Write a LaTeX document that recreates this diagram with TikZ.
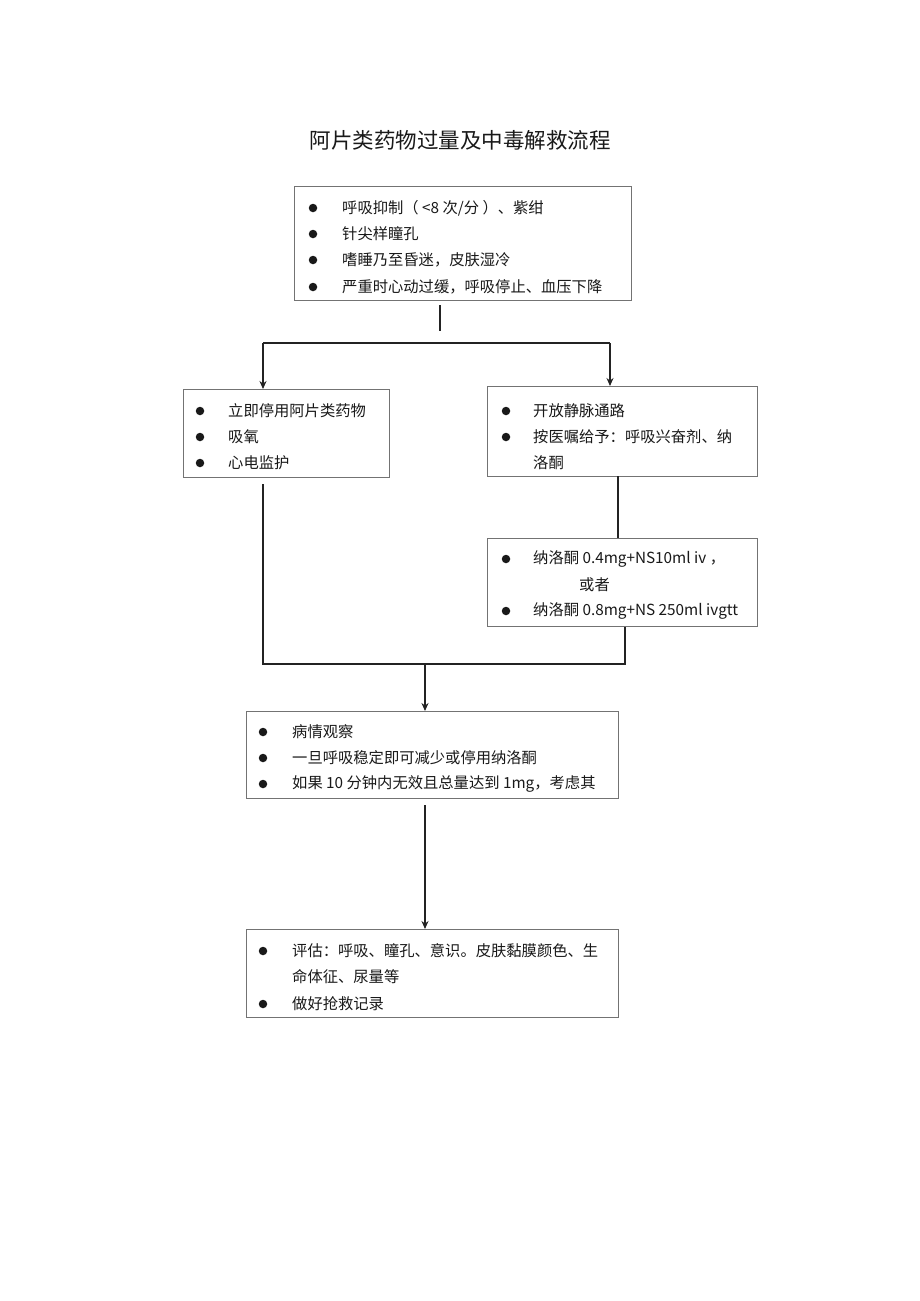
\documentclass[tikz,border=0pt]{standalone}
\usepackage{fontspec}
\setmainfont{Noto Sans CJK SC}
\usetikzlibrary{arrows.meta}
\definecolor{boxgray}{RGB}{115,115,115}
\definecolor{linedark}{RGB}{35,35,35}
\definecolor{txt}{RGB}{25,25,25}
\newcommand{\lat}[1]{{\fontsize{15.3}{18}\selectfont #1}}
\begin{document}
\begin{tikzpicture}[x=1pt,y=-1pt,
  flowbox/.style={draw=boxgray,line width=1pt,inner sep=0pt,anchor=north west},
  itemtext/.style={anchor=west,inner sep=0pt,text=txt,font=\fontsize{15.3}{18}\selectfont},
  dot/.style={circle,fill=txt,inner sep=0pt,minimum size=8.5pt},
  conn/.style={draw=linedark,line width=1.1pt},
  arr/.style={conn,-{Stealth[length=8pt,width=7pt]}}]
\useasboundingbox (0,0) rectangle (920,1301);
\fill[white] (0,0) rectangle (920,1301);

% title
\node[text=txt,font=\fontsize{21.5}{24}\selectfont,inner sep=0pt] (title) at (460,140) {阿片类药物过量及中毒解救流程};

% boxes
\node[flowbox,minimum width=337pt,minimum height=114pt] (b1) at (294,186) {};
\node[flowbox,minimum width=206pt,minimum height=88pt] (b2) at (183,389) {};
\node[flowbox,minimum width=270pt,minimum height=90pt] (b3) at (487,386) {};
\node[flowbox,minimum width=270pt,minimum height=88pt] (b4) at (487,538) {};
\node[flowbox,minimum width=372pt,minimum height=87pt] (b5) at (246,711) {};
\node[flowbox,minimum width=372pt,minimum height=88pt] (b6) at (246,929) {};

% box 1 text
\node[dot] (d11) at (313,208) {};
\node[itemtext] (t11) at (342,208) {呼吸抑制（\lat{ <8 }次\lat{/}分\lat{ }）、紫绀};
\node[dot] (d12) at (313,234) {};
\node[itemtext] (t12) at (342,234) {针尖样瞳孔};
\node[dot] (d13) at (313,260) {};
\node[itemtext] (t13) at (342,260) {嗜睡乃至昏迷，皮肤湿冷};
\node[dot] (d14) at (313,287) {};
\node[itemtext] (t14) at (342,287) {严重时心动过缓，呼吸停止、血压下降};

% box 2 text
\node[dot] (d21) at (200,411) {};
\node[itemtext] (t21) at (228,411) {立即停用阿片类药物};
\node[dot] (d22) at (200,437) {};
\node[itemtext] (t22) at (228,437) {吸氧};
\node[dot] (d23) at (200,463) {};
\node[itemtext] (t23) at (228,463) {心电监护};

% box 3 text
\node[dot] (d31) at (506,411) {};
\node[itemtext] (t31) at (533,411) {开放静脉通路};
\node[dot] (d32) at (506,437) {};
\node[itemtext] (t32) at (533,437) {按医嘱给予：呼吸兴奋剂、纳};
\node[itemtext] (t33) at (533,463) {洛酮};

% box 4 text
\node[dot] (d41) at (506,559) {};
\node[itemtext] (t41) at (533,559) {纳洛酮\lat{ 0.4mg+NS10ml iv }，};
\node[itemtext] (t42) at (579,585) {或者};
\node[dot] (d43) at (506,611) {};
\node[itemtext] (t43) at (533,611) {纳洛酮\lat{ 0.8mg+NS 250ml ivgtt}};

% box 5 text
\node[dot] (d51) at (263,732) {};
\node[itemtext] (t51) at (292,732) {病情观察};
\node[dot] (d52) at (263,758) {};
\node[itemtext] (t52) at (292,758) {一旦呼吸稳定即可减少或停用纳洛酮};
\node[dot] (d53) at (263,784) {};
\node[itemtext] (t53) at (292,784) {如果\lat{ 10 }分钟内无效且总量达到\lat{ 1mg}，考虑其};

% box 6 text
\node[dot] (d61) at (263,951) {};
\node[itemtext] (t61) at (292,951) {评估：呼吸、瞳孔、意识。皮肤黏膜颜色、生};
\node[itemtext] (t62) at (292,977) {命体征、尿量等};
\node[dot] (d63) at (263,1004) {};
\node[itemtext] (t63) at (292,1004) {做好抢救记录};

% connectors
\coordinate (c1a) at (440,305);
\coordinate (c1b) at (440,331);
\draw[conn] (c1a) -- (c1b);
\coordinate (sl) at (263,343);
\coordinate (sr) at (610,343);
\draw[conn] (sl) -- (sr);
\draw[arr] (sl) -- (sl |- b2.north);
\draw[arr] (sr) -- (sr |- b3.north);

\coordinate (l2a) at (263,484);
\coordinate (merge) at (263,664);
\coordinate (mr) at (625,664);
\draw[conn] (l2a) -- (merge) -- (mr) -- (mr |- b4.south);
\coordinate (l3a) at (618,476);
\draw[conn] (l3a) -- (l3a |- b4.north);
\coordinate (mm) at (425,664);
\draw[arr] (mm) -- (mm |- b5.north);
\coordinate (l5a) at (425,805);
\draw[arr] (l5a) -- (l5a |- b6.north);
\end{tikzpicture}
\end{document}
